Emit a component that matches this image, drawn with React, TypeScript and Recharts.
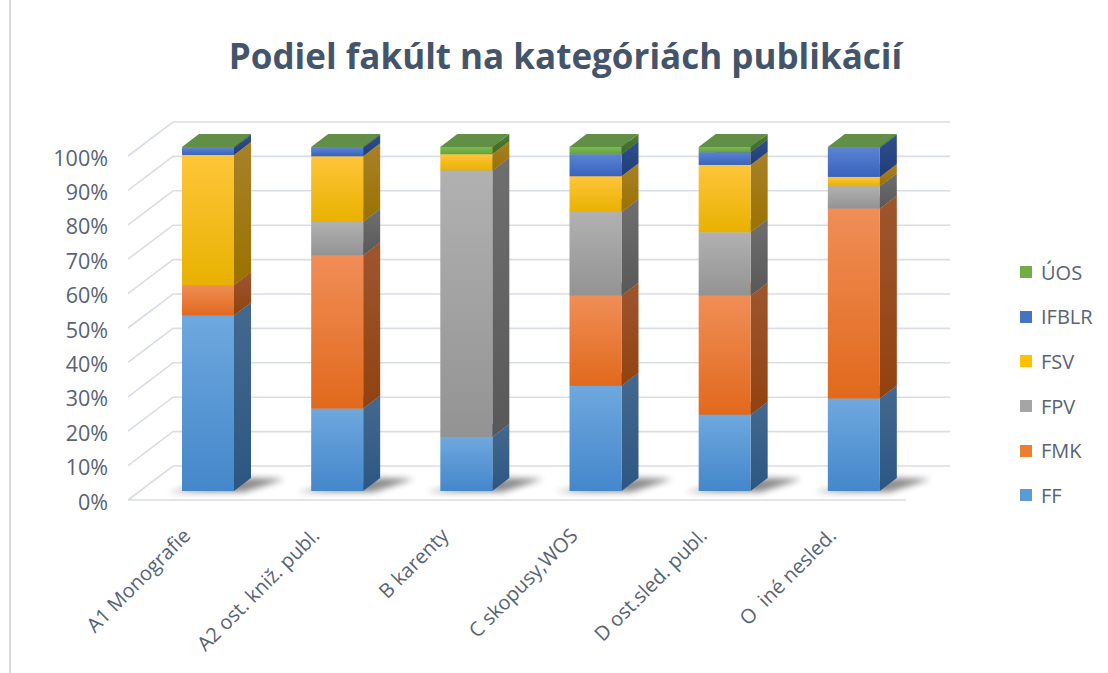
import React from 'react';
import { BarChart, Bar, XAxis, YAxis, CartesianGrid, Legend } from 'recharts';

const categories = ['A1 Monografie', 'A2 ost. kniž. publ.', 'B karenty', 'C skopusy,WOS', 'D ost.sled. publ.', 'O  iné nesled.'];
const ffValues = [51.1, 24.0, 15.7, 30.6, 22.2, 26.9];
const fmkValues = [8.9, 44.7, 0, 26.2, 34.6, 55.3];
const fpvValues = [0, 9.7, 77.5, 24.3, 18.4, 6.5];
const fsvValues = [37.9, 19.1, 4.7, 10.4, 19.6, 2.7];
const ifblrValues = [2.1, 2.5, 0, 6.4, 3.7, 8.5];
const uosValues = [0.2, 0.2, 2.1, 2.1, 1.5, 0.2];
const yTicks = [0, 0.1, 0.2, 0.3, 0.4, 0.5, 0.6, 0.7, 0.8, 0.9, 1];

const W = 1108;
const H = 673;
const X_AXIS_H = 30;
// plot area: x 143..918, y 147..491
const margin = { top: 147, right: 190, bottom: 182 - X_AXIS_H, left: 0 };
const PLOT_BOTTOM = 491;
const DX = 17; // bar depth
const DY = 13;
const textColor = '#586375';
const font = '"Open Sans", sans-serif';

// front face gradient (top, bottom), side gradient (top, bottom), top face
const series = [
  { key: 'ff', name: 'FF', color: '#5B9BD5', front: ['#6ea8de', '#4487cb'], side: ['#44698f', '#2c5682'], top: '#5b86b5' },
  { key: 'fmk', name: 'FMK', color: '#ED7D31', front: ['#f08e57', '#e1691c'], side: ['#9e5630', '#91420f'], top: '#c66a2c' },
  { key: 'fpv', name: 'FPV', color: '#A5A5A5', front: ['#b1b1b1', '#939393'], side: ['#6f6f6f', '#585858'], top: '#8c8c8c' },
  { key: 'fsv', name: 'FSV', color: '#FFC000', front: ['#fec53a', '#e9b200'], side: ['#a8812a', '#9a7200'], top: '#c99a10' },
  { key: 'ifblr', name: 'IFBLR', color: '#4472C4', front: ['#5b84d2', '#3862bd'], side: ['#2f4f8d', '#213d77'], top: '#3b5fa0' },
  { key: 'uos', name: 'ÚOS', color: '#70AD47', front: ['#7cbb52', '#65a23c'], side: ['#4d7c31', '#3f6a27'], top: '#618f45' },
];
const valueLists = [ffValues, fmkValues, fpvValues, fsvValues, ifblrValues, uosValues];

const data = categories.map((cat, i) => {
  const row: any = { cat };
  series.forEach((s, j) => { row[s.key] = valueLists[j][i]; });
  return row;
});

const Bar3D = ({ x, y, width, height, s, first }: any) => {
  if (!height || height <= 0) return null;
  const b = y + height;
  const r = x + width;
  return (
    <g>
      {first && (
        <polygon
          points={`${x - 14},${b + 1} ${r + 10},${b + 1} ${r + DX + 34},${b - DY + 1} ${r + DX},${b - DY}`}
          fill="#000"
          opacity={0.45}
          filter="url(#shadowBlur)"
        />
      )}
      <polygon points={`${r},${y} ${r + DX},${y - DY} ${r + DX},${b - DY} ${r},${b}`} fill={`url(#side-${s.key})`} />
      <rect x={x} y={y} width={width} height={height} fill={`url(#front-${s.key})`} />
      <polygon points={`${x},${y} ${x + DX},${y - DY} ${r + DX},${y - DY} ${r},${y}`} fill={s.top} />
    </g>
  );
};

const GridLine = (props: any) => {
  const { x1, x2, y1 } = props;
  const isFloor = y1 >= PLOT_BOTTOM - 1;
  return (
    <g key={props.key}>
      <path d={`M${x1 - 15},${y1 + 9} L${x1 + 30},${y1 - 25} L${x2 + 32},${y1 - 25}`} stroke="#d9dde6" strokeWidth={1.6} fill="none" />
      {isFloor && <path d={`M${x1 - 15},${y1 + 9} L${x2 - 12},${y1 + 9}`} stroke="#d9dde6" strokeWidth={1.6} fill="none" />}
    </g>
  );
};

const YTick = ({ y, payload }: any) => (
  <text x={108} y={y + 11} dy="0.35em" textAnchor="end" fill={textColor} fontSize={21.5} fontFamily={font}>
    {Math.round(payload.value * 100)}%
  </text>
);

const XTick = ({ x, y, payload }: any) => {
  const px = x - 16;
  const py = y + 38;
  return (
    <text
      x={px}
      y={py}
      textAnchor="end"
      transform={`rotate(-45, ${px}, ${py})`}
      fill={textColor}
      fontSize={20}
      fontFamily={font}
      style={{ whiteSpace: 'pre' }}
    >
      {payload.value}
    </text>
  );
};

const LegendContent = () => (
  <div style={{ fontFamily: font }}>
    {[...series].reverse().map(s => (
      <div key={s.key} style={{ display: 'flex', alignItems: 'center', height: 44.6 }}>
        <span style={{ width: 12, height: 12, background: s.color, marginRight: 9, display: 'inline-block' }} />
        <span style={{ fontSize: 20, color: textColor }}>{s.name}</span>
      </div>
    ))}
  </div>
);

export default function App() {
  return (
    <div style={{ position: 'absolute', left: 0, top: 0, width: W, height: H, background: '#fff' }}>
      <div style={{ position: 'absolute', left: 9, top: 0, width: 1.5, height: H, background: '#d9d9d9' }} />
      <div
        style={{
          position: 'absolute', left: 0, top: 32, width: 1131, textAlign: 'center',
          fontFamily: font, fontWeight: 700, fontSize: 35, color: '#44546A',
        }}
      >
        Podiel fakúlt na kategóriách publikácií
      </div>
      <BarChart width={W} height={H} data={data} margin={margin} stackOffset="expand">
        <defs>
          {series.map(s => (
            <React.Fragment key={s.key}>
              <linearGradient id={`front-${s.key}`} x1="0" y1="0" x2="0" y2="1">
                <stop offset="0%" stopColor={s.front[0]} />
                <stop offset="100%" stopColor={s.front[1]} />
              </linearGradient>
              <linearGradient id={`side-${s.key}`} x1="0" y1="0" x2="0" y2="1">
                <stop offset="0%" stopColor={s.side[0]} />
                <stop offset="100%" stopColor={s.side[1]} />
              </linearGradient>
            </React.Fragment>
          ))}
          <filter id="shadowBlur" x="-50%" y="-100%" width="200%" height="300%">
            <feGaussianBlur stdDeviation="3" />
          </filter>
        </defs>
        <CartesianGrid vertical={false} horizontal={GridLine} />
        <XAxis dataKey="cat" height={X_AXIS_H} axisLine={false} tickLine={false} tick={<XTick />} interval={0} />
        <YAxis width={143} domain={[0, 1]} ticks={yTicks} axisLine={false} tickLine={false} tick={<YTick />} />
        <Legend
          layout="vertical"
          align="center"
          verticalAlign="middle"
          content={<LegendContent />}
          wrapperStyle={{ position: 'absolute', left: 1020, top: 250, width: 90, height: 270 }}
        />
        {series.map((s, j) => (
          <Bar
            key={s.key}
            dataKey={s.key}
            name={s.name}
            stackId="a"
            fill={s.color}
            barSize={52}
            isAnimationActive={false}
            shape={(p: any) => <Bar3D {...p} s={s} first={j === 0} />}
          />
        ))}
      </BarChart>
    </div>
  );
}
